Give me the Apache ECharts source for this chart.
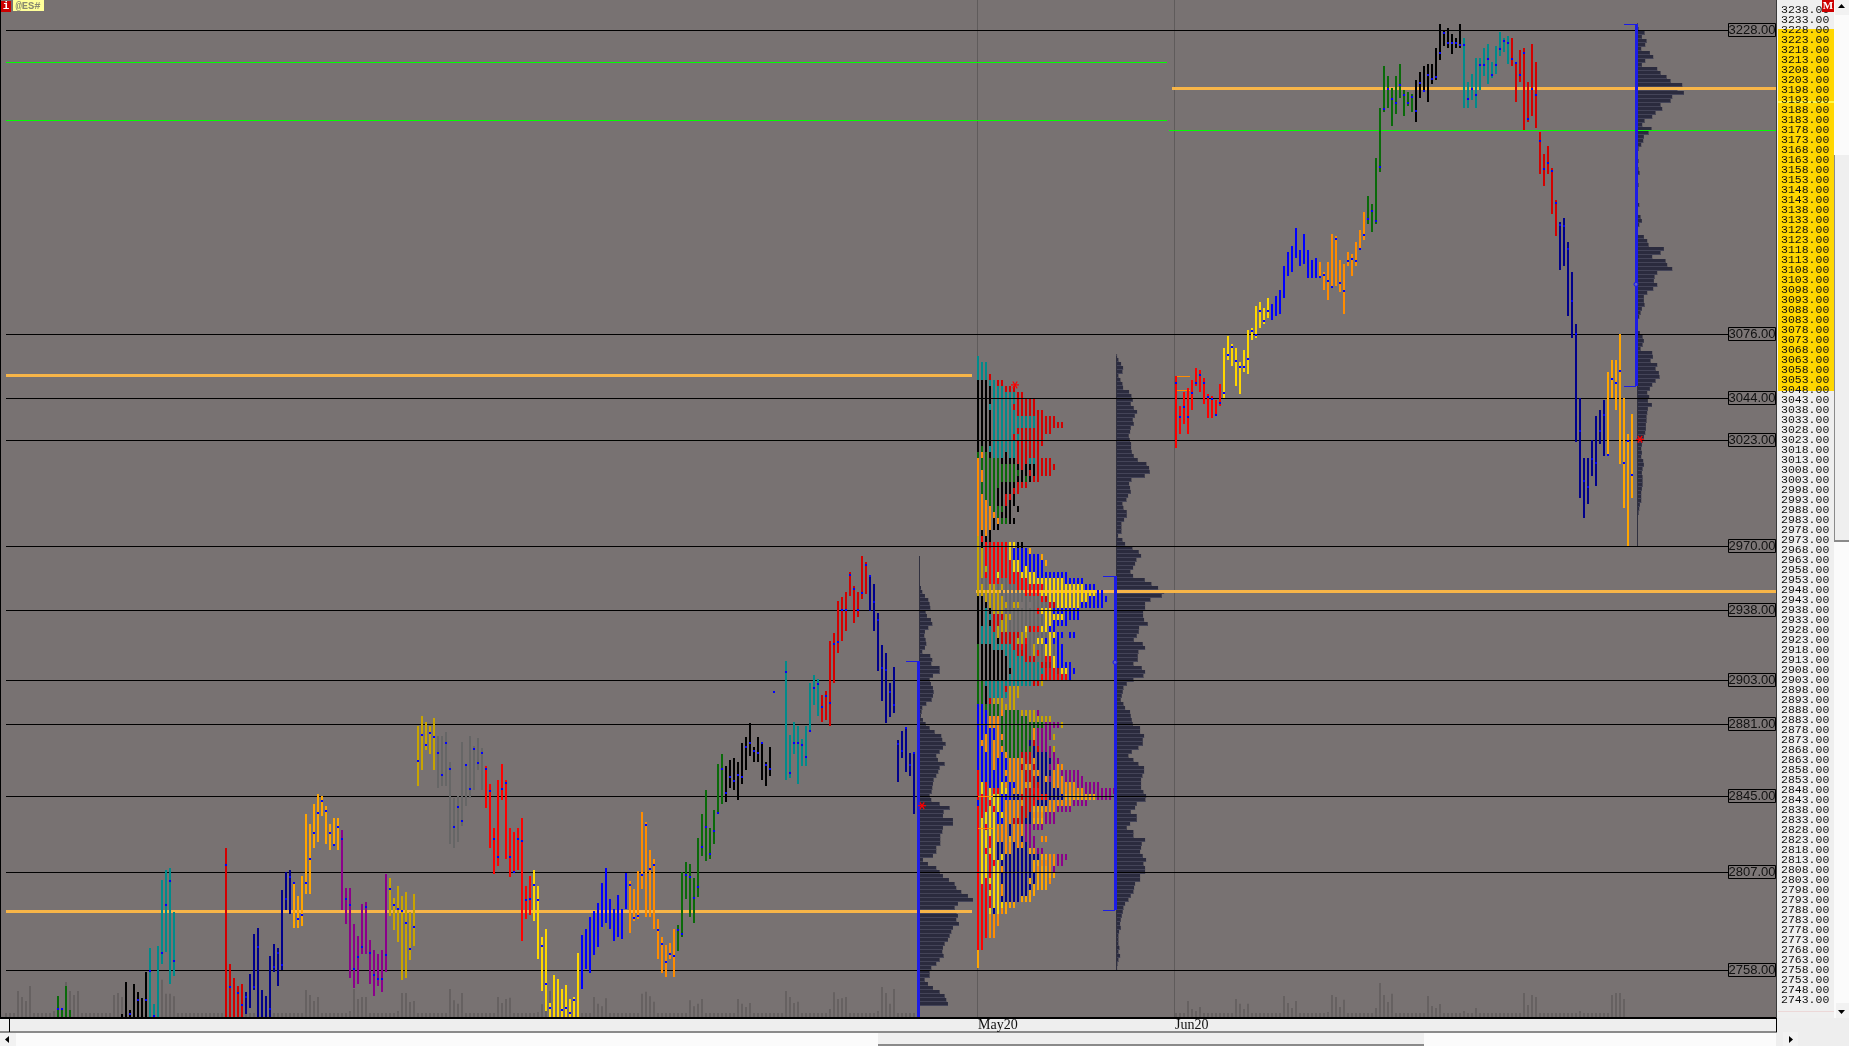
<!DOCTYPE html>
<html><head><meta charset="utf-8"><style>html,body{margin:0;padding:0;background:#eee}#c{width:1849px;height:1046px}</style>
<script src="https://cdn.jsdelivr.net/npm/echarts@6/dist/echarts.min.js"></script></head><body><div id="c"></div>
<script>
const tickLabels=[3238,3233,3228,3223,3218,3213,3208,3203,3198,3193,3188,3183,3178,3173,3168,3163,3158,3153,3148,3143,3138,3133,3128,3123,3118,3113,3108,3103,3098,3093,3088,3083,3078,3073,3068,3063,3058,3053,3048,3043,3038,3033,3028,3023,3018,3013,3008,3003,2998,2993,2988,2983,2978,2973,2968,2963,2958,2953,2948,2943,2938,2933,2928,2923,2918,2913,2908,2903,2898,2893,2888,2883,2878,2873,2868,2863,2858,2853,2848,2843,2838,2833,2828,2823,2818,2813,2808,2803,2798,2793,2788,2783,2778,2773,2768,2763,2758,2753,2748,2743];
const blankTicks=[2738,3243];
const levels=[3228,3076,3044,3023,2970,2938,2903,2881,2845,2807,2758];
const monthLabels=['May20','Jun20'];
const monthSlots=[244,293.25];
const pocLines=[[1,3055.5,242.5],[243.5,2947.5,443.75],[1,2787.5,242.5],[292.5,3198.8,443.75]];
const greenLines=[[1,3212,291.25],[1,3183,291.25],[291.75,3178,443.75]];
const thinLines=[[293.75,3055,297],[293.75,3048,297],[244,2845,247.75],[244,2829,247.75]];
const FLOOR=2733;
// [high, low, tick] per bar, one list per 12-bar period
const a1G=[[2745.2,FLOOR,2738.8],[2738.8,FLOOR,2738.8],[2750.2,FLOOR,null],[2738.2,FLOOR,null]];
const a2K=[[2736,FLOOR,null],[2752.1,FLOOR,null],[2738,FLOOR,2736.2],[2751.1,FLOOR,null],[2747.1,FLOOR,2743],[2744,FLOOR,null],[2757.1,FLOOR,2743]];
const a3T=[[2769.2,FLOOR,2757.6],[2741,FLOOR,2735.2],[2770.1,FLOOR,null],[2803.2,2761.2,2766.6],[2808.2,2767.2,2790.6],[2809.2,2751.2,2802.6],[2787.2,2755.2,2762.6]];
const a4r=[[2819.2,FLOOR,2810.6],[2761.2,FLOOR,2749.6],[2754.2,FLOOR,null],[2750.2,FLOOR,2746.6],[2751.2,FLOOR,2740.6]];
const a5N=[[2747.2,2736.2,2744.6],[2756.2,2739.2,null],[2776.2,2748.2,2749.6],[2779.2,FLOOR,2769.6],[2748.2,FLOOR,null],[2745.2,FLOOR,null],[2765.2,FLOOR,2738.6],[2771.2,2757.2,2759.6],[2769.2,2750.2,2766.6],[2798.2,2758.2,2760.6],[2807.2,2788.2,2793.6],[2808.2,2786.2,2804.6]];
const a6A=[[2801.2,2779.2,2801.6],[2795.2,2779.2,2783.6],[2805.2,2780.2,2785.6],[2836.2,2796.2,2801.6],[2831.2,2796.2,2813.6],[2841.2,2819.2,2826.6],[2846.2,2822.2,2836.6],[2845.2,2835.2,2842.6],[2840.2,2821.2,2837.6],[2831.2,2818.2,2826.6],[2834.2,2820.2,2820.6],[2834.2,2818.2,2829.6]];
const a7P=[[2828.2,2788.2,2823.6],[2799.2,2781.2,2793.6],[2799.2,2754.2,2790.6],[2781.2,2749.2,2758.6],[2775.2,2751.2,2764.6],[2791.2,2766.2,2769.6],[2792.2,2766.2,2789.6],[2773.2,2751.2,2766.6],[2768.2,2745.2,2755.6],[2766.2,2750.2,2753.6],[2768.2,2747.2,2753.6],[2806.2,2757.2,2765.6]];
const a8D=[[2804.2,2785.2,2798.6],[2794.2,2778.2,2790.6],[2800.2,2772.2,2788.6],[2795.2,2753.2,2787.6],[2797.2,2754.2,2781.6],[2787.2,2763.2,2768.6],[2796.2,2770.2,2779.6],[2880.2,2850.2,2862.6],[2885.2,2858.2,2875.6],[2882.2,2868.2,2870.6],[2880.2,2866.2,2876.6],[2884.2,2858.2,2874.6]];
const a9S=[[2875.2,2849.2,2866.6],[2875.2,2850.2,2855.6],[2877.2,2850,2871.6],[2862.2,2821.2,2858.6],[2844.2,2819.2,2829.6],[2845.2,2822.2,2839.6],[2872.2,2830.2,2832.6],[2861.2,2840.2,2860.6],[2875.2,2844.2,2848.6],[2870.2,2848,2868.6],[2874.2,2858.2,2861.6],[2869.2,2848.2,2866.6]];
const a10R=[[2860.2,2839.2,2858.6],[2851.2,2819.2,2847.6],[2829.2,2806.2,2823.6],[2853.2,2810.2,2814.6],[2861,2843,2848.6],[2853,2813.5,2851.6],[2829.2,2804.5,2814.6],[2827.2,2806.5,2807.2],[2829.2,2808.2,2823.6],[2834.2,2772.7,2822.6],[2800.2,2783.5,2793.2],[2805.2,2785.5,2793.8]];
const a11Y=[[2808.2,2782.5,2800.6],[2800.2,2763.5,2793],[2774.5,2747.8,2770],[2778.5,2737.8,2751.3],[2741.7,FLOOR,2739],[2755.5,FLOOR,null],[2753.5,FLOOR,null],[2748.5,FLOOR,2738],[2750.5,FLOOR,2739],[2743.5,FLOOR,2736.5],[2744.5,FLOOR,2743],[2766.5,FLOOR,null]];
const a12B=[[2775.5,2748.8],[2778.5,2758.8],[2784.5,2756.8],[2787.5,2765.5],[2791.5,2769.5],[2801.5,2779.5],[2809.3,2781.5],[2793.5,2778.5],[2788.5,2772.5],[2795.5,2774.5],[2788.5,2773.5],[2806.5,2788.5]];
const a13O=[[2802.5,2776.5,2800.8],[2798.5,2782.5,2784],[2807.5,2783.5,2785],[2837.2,2798.5,2805.8],[2832.2,2784.5,2830.8],[2818.2,2784.5,2808.8],[2813.5,2778.5,2810.8],[2783.5,2763.5,2778],[2774.5,2756.5,2771],[2770.5,2754.5,2762],[2771.5,2763.5,2766],[2778.5,2754.5,2765]];
const a14G=[[2780.5,2767.5,2778],[2807.3,2774.5,2776],[2812.3,2793.5,2805.8],[2811.3,2784.5,2804.8],[2804.3,2781.5,2794],[2824.2,2794.5,2799.8],[2836.2,2815.2,2819.6],[2848,2812.5,2829.8],[2829.2,2813.5,2816],[2838.2,2821.2,2827.8],[2861,2836.7,2836.8],[2866,2841,2858.5]];
const a15K=[[2860,2842,2846.5],[2863,2849,2854.5],[2864,2848,2852.5],[2862,2843,2855.5],[2871.5,2851,2854.5],[2874.5,2858,2869.5],[2881.5,2865,2871.5],[2869.7,2862,2867.5],[2874.5,2862,2866.5],[2871.5,2853,2871.5],[2862,2850,2860.5],[2869.5,2855,2858.5],[2897.2,2897.2,2897.2]];
const a16T=[[2912.5,2853,2907.2],[2875.7,2854,2856.5],[2882,2866,2871.5],[2880,2851,2871.5],[2873.7,2860,2870.5],[2880,2860,2864.5],[2901.5,2877,2877.5],[2905.7,2890.7,2899],[2903.7,2885,2901]];
const a17r=[[2895.7,2882,2889.5],[2897.7,2883,2895],[2922.5,2880,2891.5],[2926.5,2901.7,2921],[2942.5,2916.7,2922],[2944.5,2922.5,2938.2],[2947.3,2927.5,2938],[2957.3,2945.3,2955.8],[2950.3,2931.5,2948.8],[2947.3,2934.5,2938],[2965.3,2943.5,2946.8],[2962.3,2946.3,2960.8]];
const a18N=[[2955.3,2937.5,2955],[2951.3,2927.5,2942.3],[2936.5,2907.7,2933],[2920.5,2892.7,2909.3],[2916.7,2881.7,2908],[2901.7,2884.8,2897],[2909.7,2886.8,2890.5],[2873,2852,2871.3],[2877.8,2864,2867.5],[2879.8,2857,2879],[2866.7,2855,2860.5],[2866.7,2836.2,2866.5]];
const b1R=[[3055.2,3019.3,3051.7],[3040.2,3026.2,3034.7],[3047.2,3031.2,3039.7],[3049.2,3026.2,3034.7],[3053.2,3038.2,3046.7],[3059.2,3050.2,3051.7],[3058.2,3047.2,3055.7],[3054.2,3041.2,3051.7],[3046.2,3034.2,3044.7],[3045.2,3034.2,3043.7],[3043.2,3035.2,3035.7],[3051.2,3040.2,3041.7]];
const b2Y=[[3069.2,3044.2,3046.7],[3075.2,3063.2,3065.7],[3071.2,3060.2,3069.7],[3069.2,3050.2,3062.7],[3062.2,3046.2,3059.7],[3068.2,3057.2,3059.7],[3078.2,3056.2,3063.7],[3079.2,3073.2,3077.7],[3090.2,3074.2,3075.7],[3092.2,3079.2,3087.7],[3089.2,3081.2,3082.7],[3094.2,3084.2,3087.7]];
const b3B=[[3091.2,3083.2],[3095.2,3085.2],[3098.2,3086.2],[3110.2,3094.2],[3117.2,3105.2],[3120.2,3107.2],[3129.2,3114.2],[3118.2,3110.2],[3126.2,3111.2],[3118.2,3104.2],[3113.2,3104.2],[3114.2,3104.2]];
const b4O=[[3112.2,3104.2,3104.7],[3107.2,3098.2,3105.7],[3112.2,3093.2,3102.7],[3126.2,3100.2,3099.7],[3125.2,3100.2,3123.7],[3113.2,3097.2,3101.7],[3111.2,3086.2,3097.7],[3117.2,3110.2,3112.7],[3116.2,3105.2,3113.7],[3122.2,3110.2,3112.7],[3128.2,3118.2,3118.7],[3137.2,3123.2,3125.7]];
const b5G=[[3145.2,3131.2,3133.7],[3141.2,3127.2,3137.7],[3164.2,3131.2,3132.7],[3189.2,3157.2,3159.7],[3210.2,3187.2,3188.7],[3205.2,3189.2,3198.7],[3199.2,3180.2,3193.7],[3205.2,3186.2,3191.7],[3211.2,3194.2,3200.7],[3198.2,3185.2,3195.7],[3197.2,3190.2,3191.7],[3196.2,3187.2,3194.7]];
const b6K=[[3203.2,3182.2,3187.7],[3207.2,3194.2,3201.7],[3210.2,3197.2,3197.7],[3211.2,3192.2,3205.7],[3211.2,3201.2,3203.7],[3219.2,3203.2,3204.7],[3231.2,3213.2,3216.7],[3228.2,3220.2,3226.7],[3229.2,3219.2,3221.7],[3226.2,3216.2,3221.7],[3224.2,3219.2,3221.7],[3231.2,3219.2,3220.7]];
const b7T=[[3224.2,3189.2,3220.7],[3202.2,3189.2,3193.7],[3206.2,3193.2,3198.7],[3214.2,3189.2,3195.7],[3214.2,3198.2,3210.7],[3219.2,3205.2,3210.7],[3221.2,3201.2,3213.7],[3212.2,3204.2,3205.7],[3220.2,3206.2,3210.7],[3227.2,3215.2,3218.7],[3224.2,3217.2,3222.7],[3225.2,3211.2,3221.7]];
const b8r=[[3224.2,3210.2,3213.7],[3212.2,3192.2,3211.7],[3218.2,3202.2,3205.7],[3219.2,3178.2,3216.7],[3202.2,3182.2,3183.7],[3221.2,3185.2,3198.7],[3212.2,3179.2,3195.7],[3177.2,3156.2,3172.7],[3166.2,3150.2,3158.7],[3170.2,3156.2,3161.7],[3159.2,3136.2,3157.7],[3143.2,3125.2,3141.7]];
const b9N=[[3132.2,3108.2,3130.7],[3134.2,3110.2,3130.2],[3122.2,3085.2,3118.7],[3107.2,3074.2,3092.7],[3081.2,3022.3,3076],[3044,2994.2,3027.7],[3014.2,2984.2,3002.7],[3014.2,2991.2,2999.7],[3023.2,3005.2,3013.7],[3035.2,3000.2,3011.7],[3038.2,3021.2,3027.7],[3043.2,3015.2,3035.7]];
const b10A=[[3057.2,3015.7,3015.7],[3063.2,3044.2,3053.7],[3063.2,3038.2,3051.7],[3076.2,3011.2,3057.7],[3044.2,2989.2,3011.7],[3026.2,2970.2,3022.7],[3036.2,2994.2,3005.7]];
const periods=[[14,'G',a1G],[30,'K',a2K],[37,'T',a3T],[56,'r',a4r],[61,'N',a5N],[73,'A',a6A],[85,'P',a7P],[97,'D',a8D],[109,'S',a9S],[121,'R',a10R],[133,'Y',a11Y],[145,'B',a12B],[157,'O',a13O],[169,'G',a14G],[181,'K',a15K],[196,'T',a16T],[205,'r',a17r],[217,'N',a18N],
[293.5,'R',b1R],[305.5,'Y',b2Y],[317.5,'B',b3B],[329.5,'O',b4O],[341.5,'G',b5G],[353.5,'K',b6K],[365.5,'T',b7T],[377.5,'r',b8r],[389.5,'N',b9N],[401.5,'A',b10A]];
const palette={K:'#000000',T:'#008B8B',G:'#0A6A0A',O:'#FF8C00',A:'#FFA500',Y:'#FFD700',D:'#C8A400',R:'#FF0000',r:'#D40000',B:'#0000FF',N:'#00008B',P:'#8B008B',S:'#666666'};
// Letter (TPO) profile, May20: one string per 3-point price row, one character per column
const tpoTopPrice=3065.15;
const tpoRows=["T","TTT","TTT","TTTr","KKKTTrr","KKKKTTTrrr","KKKKTTTTTTrr","KKKKTTTTTTrrrrr","KKKTTTTTTrrrrrr","KKKKTTTTTTrrrrrrr","KKKKTTTTTTTTTTTrrrrr","KKKKTTTTTTTTTTTrrrrrrr","KKKKTTTTTTrrrrrrrrr","KKKKTTTTTrTrrrrrr","KKKKTTTTTTrrrrrrr","KGKTTTTTTTrrrrrr","GOGKTTTKTTrrrrrr","OGGGGGKKKKrrrTTrrrr","OGGGGGGGGGKrKKKrrrrr","OOGGGGGGGGGKKrKrrrr","OOGGGGGGGGKKGKrr","OGGGGGKKKKrrr","OGGGGKKKKrr","OOGGGKKrrK","OOOGGKKrKK","OOOOGGGKK.K","OOOOOGKKK","OOOOKOGGKK","OOOOKK","OKOK","DRKK","DKRrRRRRYYKK","DDRRRRRRYBBBBA","DDRRRRRRYBBBBBBBA","DDRRRRRRRYYBBBBBBA","DDDRRRRRRYYBYBBBB","DDRRRYRRRRRYYYYBBBBBBBB","DSSRRRSSRRRRRYYYYYYYYYBBBBB","DDSDDSDSSSRRRRRRRYYYYYYYYYYBBB","DDDDDDSSSSSSRRRRYYYYYYYYYYYYYYBB","KKDDDDDSSSSSSSSSRrYYYYYYYYYYBBBBB","KKKDDDDDSDD.S.SSSSRrYYYYYYBBBBBB","KKTKDDDSSSSSSSSRYYYBBBBBBB","KKTTrrrDDSSSSSSSSYYYYYBBBB","KKTKrrDDSSSSSSSSSYYBBBB","KTTTrDDDSSSSYrRRYYBB","KTTTTDrrrrrDDSSSSSYYBB.BB","KTTTTKrrrrDDRSSYYBYBB","GKKKTTTTTrrRrSDSSYYSBB","GKKKKKKTTTrrrSDRSYYSBB","GKKKKKKKTTTTrrrSSRRYBB","GKKKKKKKTTTTTTTTrrrYBBBB","GKKKKKKKKTTTTTTTTRRRrYYBB","GKKKKKKKTTTTTTTTRRRRRRRB","GGTTTTTTTTTTTTrrD","GGKTTTTrDDD","GGKTTTTTDDD","GGKrDDD.DD","BBGGGGDDDD","BBBGGGOGGGGDDDDP","BBBOOOGGGGGGGDDDDDD","BBBOOOGGGGGGGGGGGPPPPD","BBBBBOGGGGGGGGOPPPP","BBOBBOOGGGGGGGOPPPPD","BOOBOOGGGGGGGNrPPP","BBOBOOOGGGGGGGNrPPPD","BBBBOOBOGGGrrrNNNNPP","BBBBOBBBOOOOrrONNNNPP","BBBBOBBBOOOrOOrNNNPPOO","RBBBBBBOOOOOrrOONNNOOPPPPP","RBBBBBBBOOOOrrrNNOPOOOPPPPP","RYRBBBYOBBOOOOrrNNNOOOOOOPPPPPP","RYRYRRYYBOOOrrRRNNNNNOOOOOOPPPPPPPP","RRRYYYBBBNNrrrrRRRNNNNAAAAAAAAPPPP","BRRRYYBOOOOOrrRNNNOOOOOOPPPP","RRRYRYBOOOOrrrAAAOOOPPPP","RRYYYBYOOOOrrNOOOPPP","RYYYYBBOOrrrNNAAAPPP","RYRYYOOONOOOPPPPP","RYYYYOOONOOOPP","RYYRYOOOAOONPPP.OO","RYYRYNNOONOONPP","RYRYYNNOONNNNAOPP","RYYRYNYNNNNNNNNNAAOOPPP","RYYRRYNNNNNNNNAAOOOOPP","RYYRYYONNNNNNNAOAAOP","RYYRYYNNNNNNNNNAAAAA","RYRYYYNNNNNNNANAAAO","RRRRYYONNNNNNNAAAA","RRRYYYONNNNNNAA","RRRRYYNNNNNAAA","RRRRYYYAAA","RRRYNYOA","RRROOO","RRROOO","RRROO","RRROO","RR","RR","A","A","A"];
const tpoFirstSlot=244;
const profile1Top=2949;
const profile1=[4,8,16,26,30,32,18,22,34,38,26,16,14,18,20,16,8,32,38,35,60,60,40,30,34,40,42,40,36,20,8,6,4,10,18,30,45,65,68,78,70,60,50,55,75,60,56,50,42,40,38,36,30,35,60,90,72,70,100,100,70,68,62,62,62,50,50,40,10,25,50,60,70,88,105,110,125,145,160,115,105,110,115,110,118,100,95,90,85,75,70,68,72,60,50,35,30,30,15,25,40,60,75,80,85];
const profile2Top=3065.15;
const profile2=[2,6,14,20,18,6,12,18,20,38,45,49,43,52,62,55,49,52,43,41,37,40,44,44,46,52,64,90,98,100,85,45,38,41,43,35,30,18,21,31,31,23,15,15,15,5,18,26,48,67,74,60,56,50,42,50,85,105,125,143,136,102,86,86,80,80,83,94,68,67,61,52,79,86,66,64,64,51,76,86,81,51,31,21,19,16,13,21,26,41,43,46,49,71,71,83,79,79,66,46,36,51,66,83,83,78,74,74,74,81,89,87,61,56,43,61,61,41,31,51,51,86,76,74,71,79,89,81,86,86,71,71,56,53,51,43,36,26,21,19,16,13,11,13,8,6,6,6,9,6,11,6,3,2];
const profile3Top=3230.65;
const profile3=[2,4,22,14,28,24,12,38,48,24,14,60,70,88,100,135,120,140,105,100,70,75,55,45,22,15,43,34,20,18,12,4,2,0,4,0,4,7,2,2,4,1,0,0,2,6,2,2,10,14,6,2,2,20,30,34,80,70,45,85,90,105,60,52,50,60,48,30,20,20,22,14,10,6,2,2,2,8,16,20,16,10,45,47,40,60,55,65,67,55,45,38,30,36,32,44,32,30,28,28,26,26,24,20,16,14,12,14,12,18,20,16,14,16,16,16,14,12,12,12,8,6,4,2,1,1];
const volumeLeft=[12,12,12,78,60,48,93,12,12,12,12,12,18,24,12,105,78,66,78,12,12,12,12,12,12,12,12,66,72,60,30,12,12,12,12,12,12,12,12,112,70,70,62,12,12,12,12,12,12,12,12,12,12,12,12,12,12,12,12,12,12,12,12,12,12,12,12,12,12,12,12,12,12,12,12,81,66,48,60,12,12,12,12,12,12,12,18,84,54,60,60,12,12,12,12,12,12,12,18,72,72,45,48,12,12,12,12,12,12,12,12,84,50,40,72,12,12,12,12,12,12,12,12,60,42,54,58,12,12,12,12,12,12,14,38,60,78,50,12,12,12,12,12,12,12,12,12,60,40,32,56,12,12,12,12,12,12,12,12,70,76,62,46,12,12,12,12,12,12,12,12,50,32,40,54,12,12,12,12,12,12,12,12,54,40,30,42,12,12,12,12,12,12,12,12,78,60,42,46,12,12,12,12,12,12,12,24,74,54,56,60,12,12,12,12,12,12,12,18,90,72,40,84,12,12,12,12,12];
const volumeRight=[12,12,12,48,24,18,30,12,12,12,12,12,12,12,12,54,40,24,40,12,12,12,12,12,12,12,12,63,42,27,48,12,12,12,12,12,12,12,15,66,60,30,52,12,12,12,12,12,12,12,27,102,66,45,70,12,12,12,12,12,12,12,12,63,33,27,39,12,12,12,12,12,18,12,12,27,12,12,12,12,12,12,12,12,12,12,12,72,36,66,60,12,12,12,12,12,12,12,12,12,12,18,12,12,12,12,12,12,12,66,72,72,54];
const rangeBars=[[229,2912.5,FLOOR],[278.25,2955,2788],[408.5,3231,3050]];
const rangeCaps=[[226,2912.5,229],[275.25,2955,278.25],[275.25,2788,278.25],[405.5,3231,408.5],[405.5,3050,408.5]];
const profileStems=[[229.4,2965,FLOOR],[278.6,3065,2758],[408.8,3231,2970]];
const rangeMids=[[278.25,2912],[408.5,3101]];
const openStars=[[230,2840.3],[253.25,3050.7],[409.5,3023.5]];
const monthLines=[[243.75,3243,2734],[293.1,3243,2734]];

const box=(x,y,w,h,fill,extra)=>Object.assign({type:'rect',shape:{x,y,width:w,height:h},style:{fill}},extra||{});
const series=[];
function mark(name,data,draw,z,extra){series.push(Object.assign({name,type:'custom',coordinateSystem:'cartesian2d',data,z,clip:true,silent:true,encode:{x:0,y:1},renderItem:(p,api)=>draw(api)},extra||{}));}
const hLine=(thick,color)=>api=>{const a=api.coord([api.value(0),api.value(1)]),b=api.coord([api.value(2),api.value(1)]);return box(Math.round(a[0]),Math.round(a[1]-thick/2),Math.round(b[0]-a[0]),thick,color);};
const vLine=(thick,color)=>api=>{const a=api.coord([api.value(0),api.value(1)]),b=api.coord([api.value(0),api.value(2)]);return box(Math.round(a[0]-thick/2),Math.round(a[1]),thick,Math.max(1,Math.round(b[1]-a[1])),color);};

mark('months',monthLines,vLine(1,'#5f5b5b'),1);
mark('volume left',volumeLeft.map((v,i)=>[i+1,v]),api=>{const a=api.coord([api.value(0),api.value(1)]),b=api.coord([api.value(0),0]);return box(Math.round(a[0]-1),a[1],2,b[1]-a[1],'#666161');},1,{yAxisIndex:1});
mark('volume right',volumeRight.map((v,i)=>[293.5+i,v]),api=>{const a=api.coord([api.value(0),api.value(1)]),b=api.coord([api.value(0),0]);return box(Math.round(a[0]-1),a[1],2,b[1]-a[1],'#666161');},1,{yAxisIndex:1});
function profileSeries(name,slot,top,vals){
  mark(name,vals.map((v,i)=>[slot,top-2*i,v]),api=>{
    const a=api.coord([api.value(0),api.value(1)]),b=api.coord([api.value(0)+api.value(2)/12,api.value(1)]);
    const y=Math.round(a[1]),w=Math.max(0,b[0]-a[0]);
    return {type:'group',children:[box(a[0],y-2,w,4,'#2b2b3e'),box(a[0],y+1,w,1,'#444458')]};
  },2);
}
profileSeries('profile 1',229.4,profile1Top,profile1);
profileSeries('profile 2',278.6,profile2Top,profile2);
profileSeries('profile 3',408.8,profile3Top,profile3);
mark('profile stems',profileStems,vLine(1,'#30303f'),2);
mark('poc',pocLines,hLine(3,'#F7B548'),3);
Object.keys(palette).forEach(code=>{
  const cells=[];
  tpoRows.forEach((row,i)=>{[...row].forEach((c,col)=>{if(c===code)cells.push([tpoFirstSlot+col,tpoTopPrice-3*i,tpoTopPrice-3*(i+1)]);});});
  if(cells.length)mark('tpo '+code,cells,api=>{const a=api.coord([api.value(0),api.value(1)]),b=api.coord([api.value(0),api.value(2)]);return box(Math.round(a[0]-1),Math.round(a[1]),2,Math.round(b[1])-Math.round(a[1]),palette[code]);},4);
});
mark('thin',thinLines,hLine(1,'#FF8C00'),6);
mark('levels',levels.map(p=>[1,p,431.5]),hLine(1,'#000000'),5);
mark('green',greenLines,hLine(1,'#00FF00'),5);
periods.forEach(([start,code,bars],n)=>{
  mark('period '+n,bars.map((b,i)=>[start+i,b[0],b[1],b[2]==null?NaN:b[2]]),api=>{
    const k=api.value(0),a=api.coord([k,api.value(1)]),b=api.coord([k,api.value(2)]);
    const x=Math.round(a[0]-1),y=Math.round(a[1]),kids=[];
    if(api.value(1)!==api.value(2))kids.push(box(x,y,2,Math.round(b[1])-y,palette[code]));
    const t=api.value(3);
    if(!isNaN(t)){const c=api.coord([k,t]);kids.push(box(x,Math.round(c[1])-1,2,2,'#0000FF'));}
    return {type:'group',children:kids};
  },7);
});
mark('ranges',rangeBars,vLine(3,'#1c1ce6'),8);
mark('range caps',rangeCaps,hLine(1,'#1c1ce6'),8);
mark('range mids',rangeMids,api=>{const a=api.coord([api.value(0),api.value(1)]);return {type:'circle',shape:{cx:a[0],cy:a[1],r:2},style:{fill:'#5b5bd0',stroke:'#1c1ce6',lineWidth:1}};},9);
mark('stars',openStars,api=>{const a=api.coord([api.value(0),api.value(1)]),r=4,kids=[];
  [[r,0],[r*.55,r*.85],[r*.55,-r*.85]].forEach(d=>kids.push({type:'line',shape:{x1:a[0]-d[0],y1:a[1]-d[1],x2:a[0]+d[0],y2:a[1]+d[1]},style:{stroke:'#FF0000',lineWidth:1.2}}));
  return {type:'group',children:kids};},9);
mark('level tags',levels.map(p=>[432.25,p]),api=>{const a=api.coord([api.value(0),api.value(1)]),y=Math.round(a[1]);
  return {type:'group',children:[
    {type:'rect',shape:{x:1728.5,y:y-6.5,width:47,height:13},style:{fill:'#7c7676',stroke:'#000',lineWidth:1}},
    {type:'text',x:1752,y:y+0.5,style:{text:api.value(1).toFixed(2),fill:'#111',font:'13px "Liberation Sans"',align:'center',verticalAlign:'middle'}}]};},9,{clip:false});

const tri=(pts,z)=>({type:'polygon',z:z||50,shape:{points:pts},style:{fill:'#000'}});
const chrome=[
 box(0,1018,1777,14,'#eeeeee',{z:-5}),box(0,1031,1777,2,'#8a8a8a',{z:-4}),
 box(0,1033,1783,13,'#fbfbfb',{z:-5}),box(878,1033,546,13,'#efefef',{z:-4}),box(878,1044,546,2,'#8a8a8a',{z:-3}),
 box(1776,1018,73,28,'#eeeeee',{z:-5}),box(1776,1017,1,15,'#000',{z:-3}),box(9,1018,1,14,'#000',{z:-3}),
 box(0,1033,16,13,'#f2f2f2',{z:-3}),box(1783,1032,15,14,'#f2f2f2',{z:-3}),
 tri([[9,1036],[9,1043],[5,1039.5]]),tri([[1789,1036],[1789,1043],[1793,1039.5]]),
 box(1777,0,57,1018,'#efefef',{z:-5}),box(1778,29,56,362,'#FFD700',{z:-4}),box(1778,101,56,2,'#FFF84A',{z:-3}),box(1778,1011,56,1,'#ecd8d8',{z:-3}),
 box(1834,0,15,1018,'#fbfbfb',{z:-5}),box(1834,155,15,386,'#efefef',{z:-4}),box(1834,155,1,386,'#8a8a8a',{z:-3}),box(1834,540,15,2,'#8a8a8a',{z:-3}),
 box(1835,0,14,15,'#f2f2f2',{z:-3}),box(1836,1003,13,15,'#f2f2f2',{z:-3}),
 tri([[1838,8],[1845,8],[1841.5,4]]),tri([[1838,1010],[1845,1010],[1841.5,1014]]),
 box(0,0,1,1018,'#000',{z:50}),box(0,1017,1777,2,'#000',{z:50}),box(1776,0,1,1018,'#3a3a3a',{z:50}),
 box(1,1,10,11,'#CC0000',{z:50}),box(13,0,31,11,'#FFFF99',{z:50}),box(1822,0,12,12,'#CC0000',{z:50}),
 {type:'text',z:51,x:6,y:6,style:{text:'i',fill:'#fff',font:'bold 11px "Liberation Mono"',align:'center',verticalAlign:'middle'}},
 {type:'text',z:51,x:28,y:6,style:{text:'@ES#',fill:'#8a8a70',font:'bold 10.5px "Liberation Mono"',align:'center',verticalAlign:'middle'}},
 {type:'text',z:51,x:1828,y:6,style:{text:'M',fill:'#fff',font:'bold 11px "Liberation Serif"',align:'center',verticalAlign:'middle'}}
];
const chart=echarts.init(document.getElementById('c'),null,{renderer:'canvas'});
chart.setOption({
 animation:false,backgroundColor:'#eeeeee',
 grid:{left:0,top:0,width:1777,height:1017,show:true,backgroundColor:'#787272',borderWidth:0,containLabel:false},
 xAxis:{type:'value',min:-0.5,max:443.75,splitLine:{show:false},axisTick:{show:false},axisLine:{show:false},
  axisLabel:{customValues:monthSlots,margin:1,align:'left',verticalAlign:'top',color:'#111',fontFamily:'Liberation Serif',fontSize:14,formatter:v=>monthLabels[monthSlots.indexOf(v)]||''}},
 yAxis:[{type:'value',position:'right',min:2734.65,max:3243.15,splitLine:{show:false},axisTick:{show:false},axisLine:{show:false},
   axisLabel:{customValues:[blankTicks[0],...tickLabels.slice().reverse(),blankTicks[1]],margin:4,align:'left',color:'#111',fontFamily:'Liberation Mono',fontSize:11.5,lineHeight:9,hideOverlap:false,formatter:v=>blankTicks.includes(v)?'':v.toFixed(2)}},
  {type:'value',show:false,min:0,max:3051}],
 graphic:{elements:chrome},
 series
});
</script></body></html>
